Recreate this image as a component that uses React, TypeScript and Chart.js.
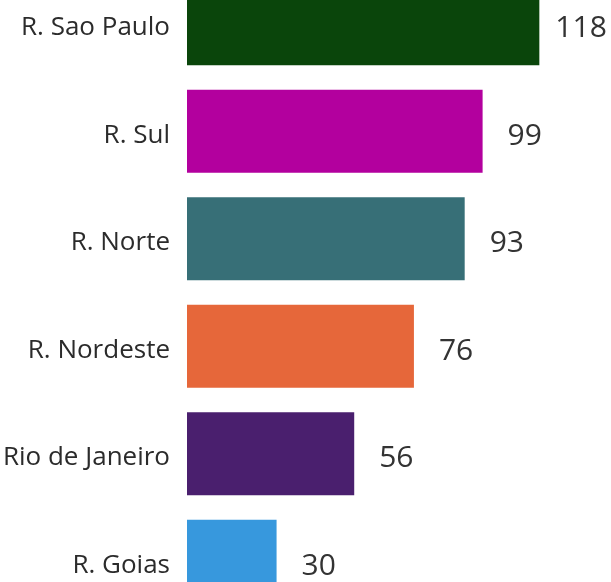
import React, { useEffect, useRef } from "react";
import { Chart, registerables } from "chart.js";

Chart.register(...registerables);

const categories = ["R. Sao Paulo", "R. Sul", "R. Norte", "R. Nordeste", "Rio de Janeiro", "R. Goias"];
const values = [118, 99, 93, 76, 56, 30];
const colors = ["#0a450b", "#b3009e", "#376f77", "#e6673a", "#4a1f6e", "#3798dd"];

const FONT = "'Open Sans', 'Noto Sans', sans-serif";

const valueLabels = {
  id: "valueLabels",
  afterDatasetsDraw(chart: any) {
    const ctx = chart.ctx;
    const meta = chart.getDatasetMeta(0);
    ctx.save();
    ctx.font = `30px ${FONT}`;
    ctx.fillStyle = "#333333";
    ctx.textAlign = "left";
    ctx.textBaseline = "middle";
    meta.data.forEach((el: any, i: number) => {
      const gap = i === 0 ? 16 : 25;
      ctx.fillText(String(values[i]), el.x + gap, el.y + 5);
    });
    ctx.restore();
  },
};

export default function App() {
  const ref = useRef<HTMLCanvasElement>(null);
  useEffect(() => {
    if (!ref.current) return;
    const chart = new Chart(ref.current, {
      type: "bar",
      data: {
        labels: categories,
        datasets: [
          {
            data: values,
            backgroundColor: colors,
            barPercentage: 0.772,
            categoryPercentage: 1,
          },
        ],
      },
      options: {
        indexAxis: "y",
        animation: false,
        responsive: false,
        maintainAspectRatio: false,
        layout: { padding: 0 },
        plugins: { legend: { display: false }, tooltip: { enabled: false } },
        scales: {
          x: { display: false, min: 0, max: 142 },
          y: {
            afterFit(scale: any) {
              scale.width = 187;
              scale.paddingTop = 0;
              scale.paddingBottom = 0;
            },
            grid: { display: false, drawTicks: false },
            border: { display: false },
            ticks: {
              padding: 17,
              labelOffset: 4,
              color: "#2b2b2b",
              font: { family: FONT, size: 26 },
            },
          },
        },
      },
      plugins: [valueLabels],
    });
    return () => chart.destroy();
  }, []);
  return (
    <div style={{ position: "fixed", left: 0, top: 0, width: 611, height: 582, overflow: "hidden", background: "#fff" }}>
      <canvas ref={ref} width={611} height={645} style={{ position: "absolute", left: 0, top: -30, width: 611, height: 645 }} />
    </div>
  );
}
